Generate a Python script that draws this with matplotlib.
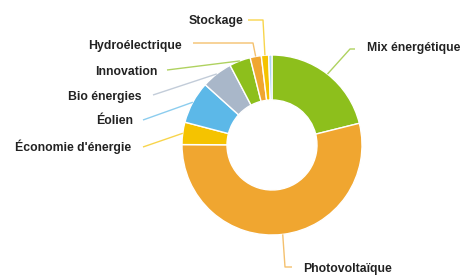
import numpy as np
import matplotlib.pyplot as plt

plt.rcParams['font.family'] = ['Liberation Sans', 'DejaVu Sans']

# share of projects by sector (%), clockwise from the top
categories = ['Mix énergétique', 'Photovoltaïque', "Économie d'énergie", 'Éolien',
              'Bio énergies', 'Innovation', 'Hydroélectrique', 'Stockage', '']
values = [21.1, 53.9, 4.0, 7.6, 5.6, 3.8, 2.0, 1.3, 0.6]
colors = ['#8dbf1c', '#f0a630', '#f5c300', '#5cb8e8', '#a9b7c9',
          '#8dbf1c', '#f0a630', '#f5c300', '#a9d4ee']

# label layout in pixels: elbow point, end of line, text position, alignment
elbows = [(350, 49), (285, 267), (143, 147), (143, 120), (153, 95),
          (167, 70), (253, 43), (263, 20), None]
ends = [(355, 49), (292, 267), None, None, None, None, (193, 43), (248, 20), None]
texts = [(367, 48, 'left'), (303, 269, 'left'), (131, 147, 'right'), (133, 121, 'right'),
         (142, 97, 'right'), (157, 72, 'right'), (182, 46, 'right'), (243, 21, 'right'), None]

cx, cy, R = 272, 145, 90

fig = plt.figure(figsize=(4.66, 2.75), dpi=100)
ax = fig.add_axes([0, 0, 1, 1])
wedges, _ = ax.pie(values, colors=colors, center=(cx, cy), radius=R,
                   startangle=-90, counterclock=True,
                   wedgeprops=dict(width=R * 0.5, edgecolor='white', linewidth=1))
ax.set_xlim(0, 466)
ax.set_ylim(275, 0)
ax.set_aspect('equal')
ax.axis('off')

for w, name, col, el, en, t in zip(wedges, categories, colors, elbows, ends, texts):
    if t is None:
        continue
    mid = np.radians((w.theta1 + w.theta2) / 2)
    ax0 = cx + R * np.cos(mid)
    ay0 = cy + R * np.sin(mid)
    xs = [ax0, el[0]]
    ys = [ay0, el[1]]
    if en is not None:
        xs.append(en[0])
        ys.append(en[1])
    ax.plot(xs, ys, color=col, lw=1, alpha=0.7, solid_capstyle='butt')
    ax.text(t[0], t[1], name, ha=t[2], va='center', fontsize=8.8,
            fontweight='bold', color='#222222')

fig.savefig('out.png', dpi=100)
